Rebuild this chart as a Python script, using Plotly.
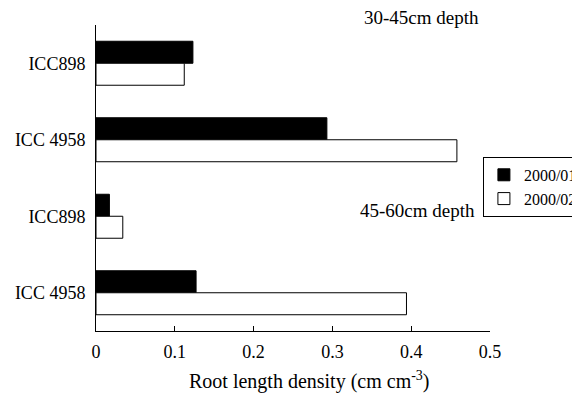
import plotly.graph_objects as go

# ---- data ----
cultivars = ["ICC898", "ICC 4958", "ICC898", "ICC 4958"]
positions = [0, 1, 2, 3]
season_names = ["2000/01", "2000/02"]
rld_2000_01 = [0.123, 0.293, 0.017, 0.127]
rld_2000_02 = [0.112, 0.458, 0.034, 0.394]
x_ticks = [0, 0.1, 0.2, 0.3, 0.4, 0.5]
x_tick_labels = ["0", "0.1", "0.2", "0.3", "0.4", "0.5"]
depth_labels = ["30-45cm depth", "45-60cm depth"]
x_title = "Root length density (cm cm<sup>-3</sup>)"

FONT = "Liberation Serif"

fig = go.Figure()
fig.add_trace(go.Bar(
    x=rld_2000_01, y=positions, orientation="h", name=season_names[0],
    marker=dict(color="black", line=dict(color="black", width=1)),
))
fig.add_trace(go.Bar(
    x=rld_2000_02, y=positions, orientation="h", name=season_names[1],
    marker=dict(color="white", line=dict(color="black", width=1)),
))

fig.update_layout(
    width=580, height=394,
    margin=dict(l=88, r=98, t=17, b=71, autoexpand=False),
    paper_bgcolor="white", plot_bgcolor="white",
    font=dict(family=FONT, size=18, color="black"),
    barmode="group", bargap=0.425, bargroupgap=0,
    showlegend=True,
    legend=dict(
        x=0.982, xanchor="left", y=0.569, yanchor="top",
        bordercolor="black", borderwidth=1, bgcolor="white",
        font=dict(family=FONT, size=16, color="black"),
        traceorder="normal", itemwidth=30, tracegroupgap=0,
    ),
    xaxis=dict(
        range=[0, 0.5], tickvals=x_ticks, ticktext=x_tick_labels,
        ticks="inside", ticklen=5, tickcolor="black", tickwidth=1,
        showline=True, linecolor="black", linewidth=1,
        showgrid=False, zeroline=False, ticklabelstandoff=4,
        tickfont=dict(family=FONT, size=18),
    ),
    yaxis=dict(
        range=[3.5, -0.5], tickvals=positions, ticktext=cultivars,
        ticks="", showline=True, linecolor="black", linewidth=1,
        showgrid=False, zeroline=False, ticklabelstandoff=6,
        tickfont=dict(family=FONT, size=18),
    ),
    annotations=[
        dict(text=depth_labels[0], xref="paper", yref="paper",
             x=0.825, y=1.026, xanchor="center", yanchor="middle",
             showarrow=False, font=dict(family=FONT, size=19)),
        dict(text=depth_labels[1], xref="paper", yref="paper",
             x=0.815, y=0.395, xanchor="center", yanchor="middle",
             showarrow=False, font=dict(family=FONT, size=19)),
        dict(text=x_title, xref="paper", yref="paper",
             x=0.543, y=-0.162, xanchor="center", yanchor="middle",
             showarrow=False, font=dict(family=FONT, size=20)),
    ],
)

fig.write_html("out.html")
